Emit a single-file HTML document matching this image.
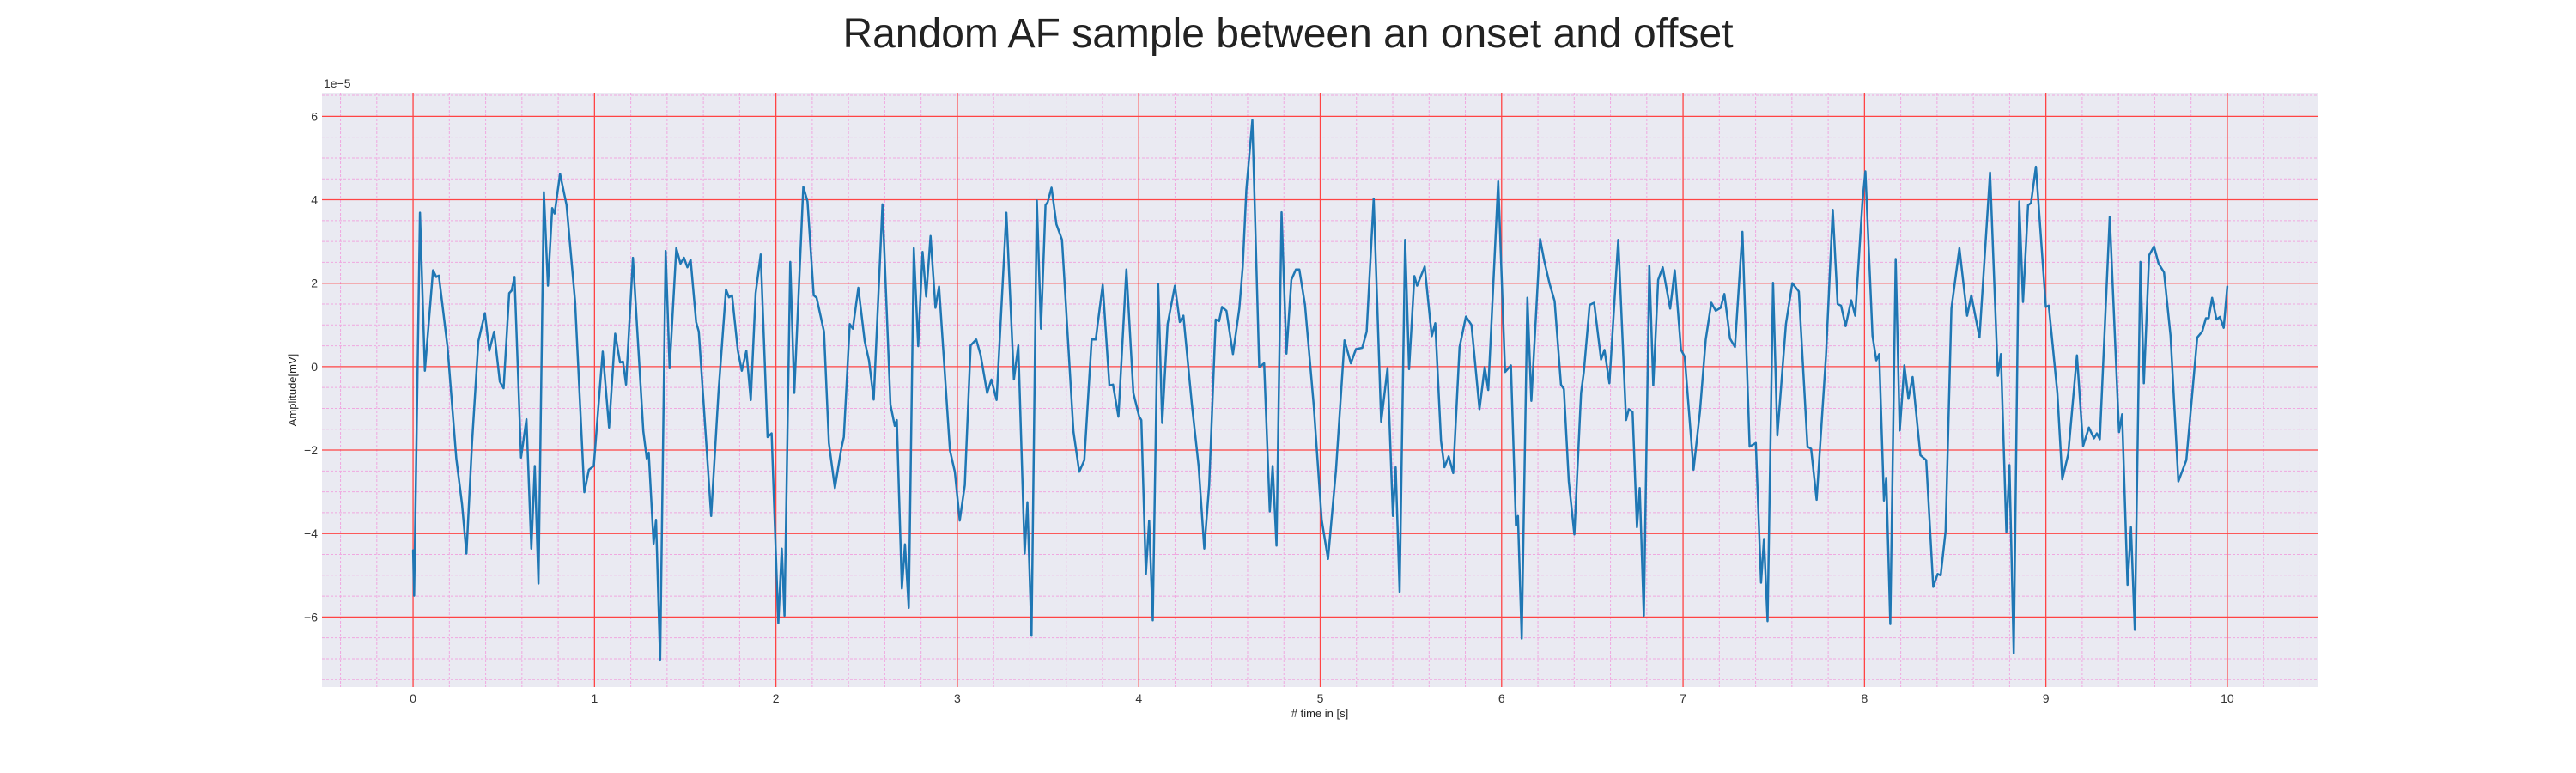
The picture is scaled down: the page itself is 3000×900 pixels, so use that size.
<!DOCTYPE html>
<html><head><meta charset="utf-8"><style>
html,body{margin:0;padding:0;background:#fff;}
svg{display:block;font-family:"Liberation Sans",sans-serif;}
</style></head><body>
<svg id="chart" width="3000" height="900" xmlns="http://www.w3.org/2000/svg">
<text x="1500" y="55" text-anchor="middle" font-size="48" fill="#222">Random AF sample between an onset and offset</text>
<rect x="375" y="108" width="2325" height="692" fill="#eaeaf2"/>
<g id="grid"></g>
<g id="ticks"></g>
<g id="series"></g>
<text x="377" y="102" font-size="14" fill="#333">1e−5</text>
<text x="1537" y="835" text-anchor="middle" font-size="13" fill="#222"># time in [s]</text>
<text x="345" y="454" text-anchor="middle" font-size="13" fill="#222" transform="rotate(-90 345 454)">Amplitude[mV]</text>
</svg>
<script>
const xTicks=[0,1,2,3,4,5,6,7,8,9,10];
const yTicks=[-6,-4,-2,0,2,4,6];
const times=[0,0.006,0.038,0.065,0.11,0.128,0.142,0.19,0.238,0.27,0.294,0.325,0.36,0.396,0.42,0.447,0.478,0.499,0.53,0.543,0.559,0.595,0.625,0.652,0.671,0.691,0.721,0.743,0.767,0.78,0.81,0.846,0.893,0.944,0.969,0.996,1.045,1.08,1.114,1.141,1.157,1.174,1.212,1.269,1.288,1.299,1.326,1.339,1.362,1.392,1.414,1.451,1.474,1.493,1.512,1.53,1.56,1.575,1.643,1.683,1.725,1.741,1.758,1.79,1.812,1.837,1.861,1.888,1.916,1.954,1.976,2.013,2.032,2.047,2.079,2.101,2.151,2.174,2.208,2.224,2.265,2.292,2.325,2.36,2.374,2.407,2.424,2.454,2.489,2.513,2.539,2.587,2.631,2.655,2.666,2.694,2.711,2.732,2.76,2.784,2.808,2.828,2.852,2.879,2.899,2.959,2.986,3.013,3.041,3.073,3.104,3.128,3.164,3.188,3.216,3.27,3.312,3.336,3.371,3.386,3.409,3.438,3.461,3.486,3.498,3.519,3.546,3.577,3.64,3.672,3.7,3.74,3.763,3.801,3.838,3.858,3.888,3.932,3.97,4.002,4.014,4.039,4.057,4.077,4.107,4.129,4.159,4.199,4.226,4.246,4.293,4.33,4.361,4.388,4.424,4.443,4.459,4.483,4.519,4.554,4.573,4.593,4.626,4.664,4.691,4.722,4.738,4.759,4.787,4.814,4.841,4.866,4.885,4.916,4.964,5.008,5.043,5.087,5.134,5.169,5.197,5.232,5.256,5.295,5.336,5.371,5.401,5.416,5.438,5.468,5.49,5.519,5.534,5.576,5.615,5.634,5.666,5.685,5.708,5.733,5.768,5.803,5.834,5.878,5.907,5.926,5.981,6.019,6.051,6.079,6.09,6.111,6.142,6.164,6.212,6.235,6.264,6.292,6.327,6.343,6.37,6.401,6.438,6.453,6.485,6.51,6.548,6.567,6.594,6.643,6.686,6.701,6.722,6.746,6.761,6.784,6.814,6.836,6.863,6.888,6.929,6.954,6.989,7.009,7.058,7.093,7.125,7.156,7.18,7.207,7.228,7.259,7.286,7.327,7.367,7.401,7.43,7.446,7.466,7.496,7.52,7.567,7.602,7.638,7.686,7.706,7.736,7.788,7.825,7.852,7.871,7.896,7.927,7.949,7.989,8.005,8.044,8.065,8.081,8.107,8.12,8.142,8.172,8.194,8.22,8.242,8.265,8.308,8.34,8.379,8.403,8.42,8.447,8.479,8.523,8.566,8.589,8.634,8.692,8.735,8.752,8.782,8.799,8.823,8.853,8.874,8.902,8.918,8.945,9.0,9.016,9.063,9.09,9.123,9.171,9.205,9.237,9.265,9.281,9.297,9.352,9.403,9.42,9.45,9.469,9.49,9.521,9.54,9.569,9.596,9.621,9.651,9.687,9.73,9.774,9.834,9.861,9.882,9.897,9.916,9.94,9.959,9.98,10.0];
const amplitudes=[-4.40,-5.49,3.69,-0.10,2.31,2.15,2.18,0.47,-2.20,-3.30,-4.48,-1.83,0.61,1.28,0.38,0.84,-0.36,-0.52,1.76,1.82,2.15,-2.18,-1.26,-4.36,-2.38,-5.20,4.18,1.94,3.80,3.67,4.62,3.87,1.57,-3.01,-2.47,-2.38,0.36,-1.46,0.79,0.10,0.12,-0.43,2.61,-1.55,-2.20,-2.06,-4.24,-3.67,-7.04,2.77,-0.04,2.84,2.47,2.61,2.38,2.56,1.07,0.84,-3.58,-0.63,1.85,1.66,1.71,0.38,-0.10,0.38,-0.80,1.76,2.69,-1.69,-1.60,-6.15,-4.36,-5.97,2.51,-0.63,4.31,3.96,1.71,1.65,0.84,-1.83,-2.91,-1.97,-1.69,1.02,0.91,1.89,0.61,0.15,-0.79,3.89,-0.91,-1.42,-1.28,-5.32,-4.26,-5.78,2.84,0.49,2.75,1.68,3.13,1.41,1.92,-2.01,-2.52,-3.69,-2.84,0.51,0.65,0.28,-0.63,-0.31,-0.80,3.69,-0.31,0.51,-4.48,-3.25,-6.45,3.98,0.91,3.87,3.94,4.29,3.41,3.04,-1.55,-2.52,-2.24,0.65,0.65,1.96,-0.45,-0.43,-1.20,2.33,-0.63,-1.19,-1.28,-4.97,-3.69,-6.08,1.98,-1.35,1.02,1.94,1.07,1.22,-0.91,-2.38,-4.36,-2.84,1.13,1.09,1.43,1.34,0.30,1.39,2.40,4.24,5.91,-0.01,0.08,-3.47,-2.38,-4.29,3.70,0.31,2.08,2.33,2.33,1.48,-0.91,-3.67,-4.61,-2.47,0.63,0.08,0.42,0.45,0.84,4.03,-1.32,-0.04,-3.58,-2.41,-5.40,3.04,-0.06,2.17,1.94,2.40,0.73,1.04,-1.78,-2.41,-2.15,-2.55,0.47,1.20,1.00,-1.02,-0.01,-0.56,4.44,-0.13,0.03,-3.81,-3.58,-6.52,1.65,-0.82,3.06,2.54,1.99,1.57,-0.43,-0.54,-2.75,-4.02,-0.63,-0.13,1.48,1.53,0.17,0.40,-0.40,3.04,-1.28,-1.02,-1.09,-3.85,-2.91,-5.97,2.42,-0.45,2.08,2.38,1.39,2.31,0.40,0.24,-2.47,-1.09,0.65,1.53,1.34,1.41,1.74,0.67,0.47,3.23,-1.92,-1.83,-5.18,-4.13,-6.10,2.01,-1.65,1.02,2.00,1.80,-1.92,-1.97,-3.19,0.28,3.76,1.50,1.46,0.97,1.59,1.22,3.96,4.68,0.74,0.15,0.30,-3.21,-2.66,-6.17,2.58,-1.53,0.03,-0.77,-0.25,-2.12,-2.24,-5.28,-4.97,-5.00,-3.94,1.39,2.84,1.22,1.71,0.70,4.65,-0.22,0.30,-3.96,-2.36,-6.87,3.96,1.55,3.87,3.92,4.79,1.43,1.46,-0.63,-2.70,-2.10,0.27,-1.90,-1.46,-1.72,-1.60,-1.74,3.59,-1.57,-1.14,-5.23,-3.85,-6.31,2.51,-0.40,2.67,2.88,2.47,2.26,0.74,-2.75,-2.24,0.70,0.84,1.16,1.16,1.65,1.13,1.19,0.93,1.92];

const NS='http://www.w3.org/2000/svg';
const L=375,R=2700,T=108,B=800,xMin=-0.502,xMax=10.502,yMin=-7.68,yMax=6.563;
function sx(v){return L+(v-xMin)/(xMax-xMin)*(R-L);}
function sy(v){return B-(v-yMin)/(yMax-yMin)*(B-T);}
function mk(tag,attrs,parent){const e=document.createElementNS(NS,tag);for(const k in attrs)e.setAttribute(k,attrs[k]);parent.appendChild(e);return e;}
const grid=document.getElementById('grid'),ticks=document.getElementById('ticks'),series=document.getElementById('series');
// minor grid
for(let i=-2;i<=52;i++){const v=i*0.2;if(i%5===0)continue;if(v<xMin||v>xMax)continue;
 const l=mk('line',{x1:sx(v),x2:sx(v),y1:T,y2:B,stroke:'#f0a8e0','stroke-width':1,'stroke-dasharray':'3,2'},grid);
 
 }
for(let i=-15;i<=13;i++){const v=i*0.5;if(i%4===0)continue;if(v<yMin||v>yMax)continue;
 const l=mk('line',{x1:L,x2:R,y1:sy(v),y2:sy(v),stroke:'#f0a8e0','stroke-width':1,'stroke-dasharray':'3,2'},grid);
 
 }
// major grid + labels
xTicks.forEach(v=>{
 const l=mk('line',{x1:sx(v),x2:sx(v),y1:T,y2:B,stroke:'#f44','stroke-width':1.3},grid);
 
 
 const t=mk('text',{x:sx(v),y:818,'text-anchor':'middle','font-size':14,fill:'#333'},ticks);
 t.textContent=String(v);
 
 });
yTicks.forEach(v=>{
 const l=mk('line',{x1:L,x2:R,y1:sy(v),y2:sy(v),stroke:'#f44','stroke-width':1.3},grid);
 
 
 const t=mk('text',{x:370,y:sy(v)+5,'text-anchor':'end','font-size':14,fill:'#333'},ticks);
 t.textContent=v<0?'−'+Math.abs(v):String(v);
 
 });
// series
const pts=times.map((t,i)=>sx(t).toFixed(1)+','+sy(amplitudes[i]).toFixed(1)).join(' ');
const pl=mk('polyline',{points:pts,fill:'none',stroke:'#1f77b4','stroke-width':2.5,'stroke-linejoin':'round','stroke-linecap':'round'},series);


</script>
</body></html>
